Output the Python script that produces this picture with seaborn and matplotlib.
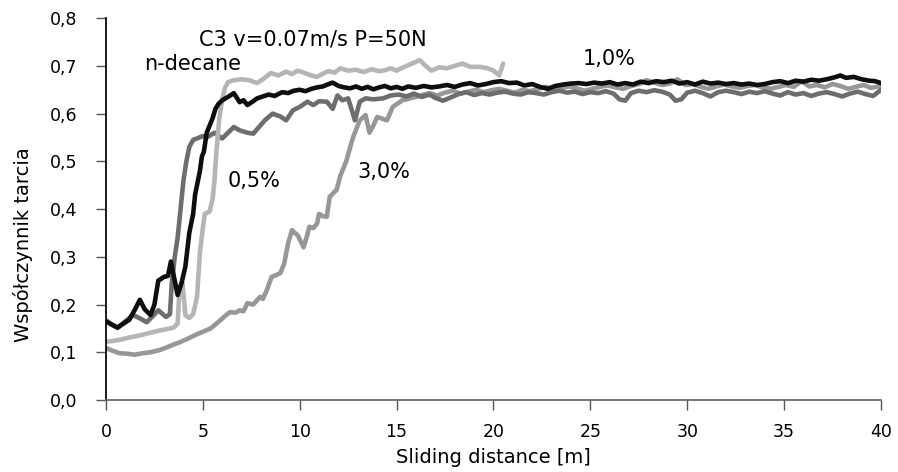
import pandas as pd
import seaborn as sns
import matplotlib.pyplot as plt

# droga tarcia [m] i wspolczynnik tarcia
x_decane = [0.0, 0.3, 0.6, 0.9, 1.2, 1.5, 1.75, 2.0, 2.3, 2.5, 2.7, 3.0, 3.2, 3.35, 3.5, 3.7, 3.9,
            4.1, 4.3, 4.5, 4.6, 4.75, 4.85, 4.95, 5.05, 5.2, 5.35, 5.5, 5.65, 5.8, 6.0, 6.3, 6.6,
            6.9, 7.1, 7.3, 7.6, 7.8, 8.1, 8.4, 8.7, 9.1, 9.4, 9.7, 10.0, 10.3, 10.6, 10.9, 11.2,
            11.5, 11.7, 12.0, 12.3, 12.6, 12.9, 13.2, 13.5, 13.8, 14.1, 14.4, 14.7, 15.0, 15.3,
            15.6, 16.0, 16.4, 16.8, 17.2, 17.6, 18.0, 18.4, 18.8, 19.2, 19.6, 20.0, 20.4, 20.8,
            21.2, 21.6, 22.0, 22.4, 22.8, 23.2, 23.6, 24.0, 24.4, 24.8, 25.2, 25.6, 26.0, 26.4,
            26.8, 27.2, 27.6, 28.0, 28.4, 28.8, 29.2, 29.6, 30.0, 30.4, 30.8, 31.2, 31.6, 32.0,
            32.4, 32.8, 33.2, 33.6, 34.0, 34.4, 34.8, 35.2, 35.6, 36.0, 36.4, 36.8, 37.2, 37.6,
            37.9, 38.2, 38.6, 39.0, 39.4, 39.7, 40.0]
y_decane = [0.165, 0.158, 0.152, 0.160, 0.168, 0.190, 0.210, 0.190, 0.178, 0.200, 0.250, 0.258,
            0.260, 0.290, 0.260, 0.220, 0.245, 0.280, 0.350, 0.390, 0.430, 0.460, 0.480, 0.510,
            0.520, 0.560, 0.575, 0.590, 0.610, 0.620, 0.628, 0.635, 0.643, 0.624, 0.628, 0.618,
            0.626, 0.632, 0.636, 0.640, 0.637, 0.645, 0.643, 0.648, 0.650, 0.647, 0.652, 0.655,
            0.657, 0.662, 0.665, 0.658, 0.655, 0.653, 0.657, 0.652, 0.656, 0.651, 0.655, 0.658,
            0.653, 0.656, 0.652, 0.657, 0.654, 0.658, 0.655, 0.657, 0.660, 0.656, 0.661, 0.664,
            0.659, 0.662, 0.666, 0.668, 0.664, 0.665, 0.659, 0.662, 0.656, 0.652, 0.658, 0.661,
            0.663, 0.664, 0.662, 0.665, 0.663, 0.666, 0.661, 0.664, 0.661, 0.667, 0.664, 0.668,
            0.666, 0.669, 0.663, 0.666, 0.661, 0.667, 0.663, 0.665, 0.662, 0.664, 0.661, 0.663,
            0.660, 0.662, 0.666, 0.668, 0.664, 0.669, 0.667, 0.671, 0.669, 0.672, 0.676, 0.680,
            0.675, 0.677, 0.672, 0.669, 0.668, 0.664]

x_05 = [0.0, 0.4, 0.8, 1.2, 1.6, 2.0, 2.4, 2.8, 3.2, 3.5, 3.7, 3.8, 3.95, 4.1, 4.3, 4.5, 4.7,
        4.85, 5.0, 5.1, 5.35, 5.5, 5.6, 5.7, 5.85, 6.0, 6.15, 6.3, 6.6, 7.0, 7.4, 7.8, 8.1, 8.5,
        8.9, 9.3, 9.6, 9.9, 10.2, 10.6, 10.9, 11.2, 11.5, 11.8, 12.1, 12.5, 12.9, 13.3, 13.7,
        14.1, 14.4, 14.7, 15.0, 15.4, 15.8, 16.2, 16.5, 16.8, 17.2, 17.6, 18.0, 18.4, 18.8,
        19.3, 19.7, 20.0, 20.3, 20.5]
y_05 = [0.122, 0.124, 0.127, 0.131, 0.134, 0.138, 0.142, 0.146, 0.149, 0.152, 0.160, 0.237,
        0.245, 0.178, 0.172, 0.180, 0.216, 0.310, 0.360, 0.390, 0.395, 0.420, 0.460, 0.520,
        0.590, 0.630, 0.655, 0.666, 0.670, 0.672, 0.670, 0.664, 0.672, 0.685, 0.680, 0.688,
        0.683, 0.690, 0.686, 0.680, 0.677, 0.684, 0.689, 0.686, 0.695, 0.690, 0.692, 0.687,
        0.693, 0.689, 0.691, 0.695, 0.690, 0.698, 0.705, 0.712, 0.700, 0.690, 0.697, 0.695,
        0.700, 0.705, 0.698, 0.698, 0.695, 0.690, 0.680, 0.705]

x_10 = [0.0, 0.3, 0.6, 1.0, 1.4, 1.8, 2.1, 2.4, 2.7, 3.1, 3.3, 3.4, 3.55, 3.7, 3.85, 4.0, 4.15,
        4.3, 4.5, 4.7, 5.0, 5.2, 5.6, 6.0, 6.3, 6.6, 6.9, 7.3, 7.6, 7.9, 8.2, 8.6, 9.0, 9.3,
        9.65, 10.0, 10.4, 10.7, 11.0, 11.4, 11.7, 11.95, 12.2, 12.5, 12.85, 13.1, 13.4, 13.8,
        14.3, 14.7, 15.1, 15.5, 15.9, 16.3, 16.7, 17.0, 17.4, 17.8, 18.2, 18.6, 19.0, 19.4,
        19.8, 20.2, 20.6, 21.0, 21.4, 21.8, 22.2, 22.6, 23.0, 23.4, 23.8, 24.2, 24.6, 25.0,
        25.4, 25.8, 26.2, 26.5, 26.8, 27.1, 27.5, 27.9, 28.3, 28.7, 29.1, 29.4, 29.7, 30.0,
        30.4, 30.8, 31.2, 31.6, 32.0, 32.4, 32.8, 33.2, 33.6, 34.0, 34.4, 34.8, 35.2, 35.6,
        36.0, 36.4, 36.8, 37.2, 37.6, 38.0, 38.4, 38.8, 39.2, 39.6, 40.0]
y_10 = [0.167, 0.158, 0.151, 0.165, 0.178, 0.170, 0.163, 0.175, 0.188, 0.174, 0.180, 0.245,
        0.300, 0.340, 0.400, 0.460, 0.500, 0.530, 0.545, 0.548, 0.553, 0.550, 0.560, 0.548,
        0.560, 0.572, 0.565, 0.560, 0.558, 0.572, 0.586, 0.600, 0.594, 0.586, 0.607, 0.614,
        0.625, 0.618, 0.626, 0.625, 0.610, 0.638, 0.628, 0.632, 0.586, 0.625, 0.632, 0.630,
        0.632, 0.638, 0.640, 0.636, 0.642, 0.635, 0.640, 0.633, 0.627, 0.634, 0.641, 0.645,
        0.639, 0.643, 0.640, 0.644, 0.646, 0.642, 0.640, 0.645, 0.643, 0.640, 0.645, 0.648,
        0.644, 0.646, 0.641, 0.645, 0.643, 0.647, 0.642, 0.630, 0.627, 0.643, 0.648, 0.645,
        0.649, 0.646, 0.640, 0.627, 0.630, 0.644, 0.648, 0.643, 0.636, 0.645, 0.648, 0.645,
        0.641, 0.646, 0.643, 0.647, 0.642, 0.638, 0.645, 0.640, 0.643, 0.637, 0.642, 0.645,
        0.641, 0.636, 0.642, 0.646, 0.641, 0.637, 0.650]

x_30 = [0.0, 0.35, 0.7, 1.1, 1.5, 1.9, 2.3, 2.8, 3.3, 3.8, 4.2, 4.6, 5.0, 5.4, 5.7, 5.9, 6.2,
        6.4, 6.7, 6.9, 7.1, 7.3, 7.6, 7.95, 8.1, 8.3, 8.55, 8.8, 9.0, 9.2, 9.4, 9.6, 9.75, 9.9,
        10.2, 10.35, 10.5, 10.7, 10.9, 11.0, 11.2, 11.4, 11.55, 11.9, 12.1, 12.4, 12.75, 13.1,
        13.4, 13.6, 13.8, 14.0, 14.5, 14.8, 15.3, 15.7, 16.0, 16.4, 16.7, 17.1, 17.5, 17.9,
        18.3, 18.7, 19.1, 19.5, 19.9, 20.3, 20.7, 21.1, 21.5, 21.9, 22.3, 22.7, 23.1, 23.5,
        23.9, 24.3, 24.7, 25.1, 25.5, 25.9, 26.3, 26.7, 27.1, 27.5, 27.9, 28.3, 28.7, 29.1,
        29.5, 29.9, 30.3, 30.7, 31.1, 31.5, 31.9, 32.3, 32.7, 33.1, 33.5, 33.9, 34.3, 34.7,
        35.1, 35.5, 35.9, 36.3, 36.7, 37.1, 37.5, 37.9, 38.3, 38.7, 39.1, 39.5, 40.0]
y_30 = [0.109, 0.103, 0.098, 0.097, 0.095, 0.098, 0.100, 0.105, 0.113, 0.121, 0.128, 0.136,
        0.143, 0.150, 0.160, 0.167, 0.178, 0.184, 0.183, 0.188, 0.186, 0.203, 0.200, 0.216,
        0.212, 0.230, 0.258, 0.262, 0.266, 0.286, 0.328, 0.356, 0.350, 0.345, 0.320, 0.340,
        0.363, 0.360, 0.370, 0.390, 0.385, 0.384, 0.426, 0.440, 0.470, 0.500, 0.550, 0.586,
        0.597, 0.560, 0.575, 0.593, 0.586, 0.614, 0.628, 0.632, 0.635, 0.640, 0.643, 0.638,
        0.644, 0.648, 0.642, 0.646, 0.650, 0.645, 0.649, 0.652, 0.648, 0.644, 0.650, 0.647,
        0.652, 0.656, 0.651, 0.654, 0.657, 0.653, 0.648, 0.652, 0.656, 0.659, 0.655, 0.652,
        0.658, 0.662, 0.670, 0.665, 0.660, 0.663, 0.672, 0.660, 0.662, 0.656, 0.652, 0.657,
        0.661, 0.657, 0.654, 0.658, 0.660, 0.655, 0.652, 0.656, 0.660, 0.656, 0.668, 0.657,
        0.660, 0.655, 0.662, 0.658, 0.652, 0.656, 0.660, 0.654, 0.658]

series_order = ["3,0%", "1,0%", "0,5%", "n-decane"]
colors = {"3,0%": "#979797", "1,0%": "#6d6d6d", "0,5%": "#b5b5b5", "n-decane": "#0e0e0e"}

df = pd.concat([
    pd.DataFrame({"s": x_30, "mu": y_30, "seria": "3,0%"}),
    pd.DataFrame({"s": x_10, "mu": y_10, "seria": "1,0%"}),
    pd.DataFrame({"s": x_05, "mu": y_05, "seria": "0,5%"}),
    pd.DataFrame({"s": x_decane, "mu": y_decane, "seria": "n-decane"}),
], ignore_index=True)

sns.set_theme(style="ticks")
plt.rcParams['font.family'] = ['DejaVu Sans']
plt.rcParams['text.color'] = 'black'
plt.rcParams['axes.labelcolor'] = 'black'
plt.rcParams['xtick.labelcolor'] = 'black'
plt.rcParams['ytick.labelcolor'] = 'black'

fig = plt.figure(figsize=(8.98, 4.72), dpi=100)
ax = fig.add_axes([0.118, 0.1525, 0.863, 0.809])

sns.lineplot(data=df, x="s", y="mu", hue="seria", hue_order=series_order, palette=colors,
             linewidth=3.3, estimator=None, sort=False, legend=False, ax=ax)

ax.set_xlim(0, 40)
ax.set_ylim(0, 0.8)
ax.set_xticks(range(0, 45, 5))
ax.set_yticks([i / 10 for i in range(9)])
ax.set_yticklabels([f"{i / 10:.1f}".replace(".", ",") for i in range(9)])
ax.tick_params(axis="both", labelsize=12.5, length=7.5, width=1, color="#555555",
               labelcolor="black")
ax.tick_params(axis="y", pad=13)
ax.tick_params(axis="x", pad=9)
sns.despine(ax=ax)
ax.spines["left"].set_color("black")
ax.spines["bottom"].set_color("#666666")

ax.set_xlabel("Sliding distance [m]", fontsize=14, color="black")
ax.set_ylabel("Współczynnik tarcia", fontsize=14, color="black")
ax.xaxis.set_label_coords(0.5, -0.125)
ax.yaxis.set_label_coords(-0.094, 0.406)

ax.text(10.66, 0.743, "C3 v=0.07m/s P=50N", fontsize=15, ha="center", va="baseline")
ax.text(4.46, 0.691, "n-decane", fontsize=15, ha="center", va="baseline")
ax.text(7.66, 0.446, "0,5%", fontsize=15, ha="center", va="baseline")
ax.text(14.32, 0.465, "3,0%", fontsize=15, ha="center", va="baseline")
ax.text(25.99, 0.702, "1,0%", fontsize=15, ha="center", va="baseline")

fig.savefig("out.png", dpi=100)
